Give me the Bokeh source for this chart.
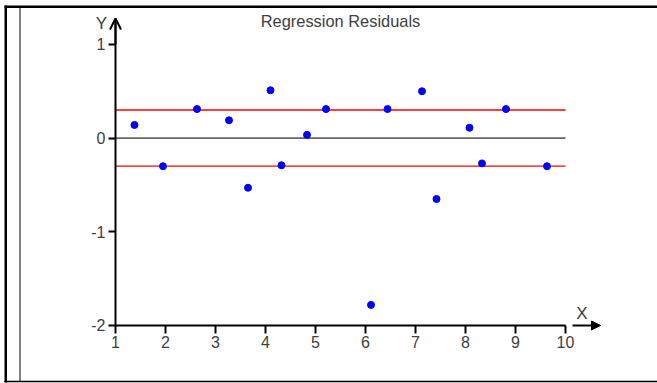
from bokeh.plotting import figure
from bokeh.models import (Range1d, FixedTicker, LinearAxis, Label, Arrow,
                          OpenHead, NormalHead)
from bokeh.embed import file_html
from bokeh.resources import INLINE

# Residuals of the regression fit
x_vals = [1.38, 1.95, 2.63, 3.27, 3.65, 4.10, 4.32, 4.83, 5.21, 6.11,
          6.44, 7.13, 7.42, 8.08, 8.33, 8.81, 9.63]
residuals = [0.14, -0.30, 0.31, 0.19, -0.53, 0.51, -0.29, 0.035, 0.31, -1.78,
             0.31, 0.50, -0.65, 0.11, -0.27, 0.31, -0.30]
band = 0.3
x_ticks = [1, 2, 3, 4, 5, 6, 7, 8, 9, 10]
y_ticks = [-2, -1, 0, 1]
y_top = 1.276
title_text = "Regression Residuals"

FONT = "Liberation Sans"
TXT = "#404040"
W, H = 657, 383
XR = (-1.3, 11.84)
YR = (-2.619, 1.4685)


def px_x(px):
    return XR[0] + px / W * (XR[1] - XR[0])


def px_y(py):
    return YR[1] - py / H * (YR[1] - YR[0])


# The plotting area covers the whole canvas; axes are pinned at x=1 and y=-2
p = figure(width=W, height=H, output_backend="svg", toolbar_location=None,
           x_range=Range1d(*XR), y_range=Range1d(*YR),
           x_axis_type=None, y_axis_type=None, min_border=0)
p.background_fill_color = "white"
p.border_fill_color = "white"
p.outline_line_color = None

xaxis = LinearAxis(fixed_location=y_ticks[0], bounds=(x_ticks[0], x_ticks[-1]))
yaxis = LinearAxis(fixed_location=x_ticks[0], bounds=(y_ticks[0], y_top))
for ax, ticks, tick_len, standoff in ((xaxis, x_ticks, 8, 3),
                                      (yaxis, y_ticks, 7, 3)):
    ax.ticker = FixedTicker(ticks=ticks)
    ax.major_label_overrides = {t: str(t) for t in ticks}
    ax.axis_line_width = 2
    ax.axis_line_color = "black"
    ax.major_tick_line_width = 2
    ax.major_tick_line_color = "black"
    ax.major_tick_out = tick_len
    ax.major_tick_in = 0
    ax.minor_tick_line_color = None
    ax.major_label_standoff = standoff
    ax.major_label_text_font = FONT
    ax.major_label_text_font_size = "16px"
    ax.major_label_text_color = TXT
p.add_layout(xaxis, "below")
p.add_layout(yaxis, "left")

# Surrounding cell border: heavy top and left edges, thin inner and bottom rules
p.segment(x0=[px_x(4), px_x(5.25), px_x(19.5), px_x(4)],
          x1=[px_x(657), px_x(5.25), px_x(19.5), px_x(657)],
          y0=[px_y(6.25), px_y(5), px_y(7), px_y(381)],
          y1=[px_y(6.25), px_y(382), px_y(381), px_y(381)],
          line_color="black", line_width=[2.5, 2.5, 1, 1.5])

# Zero line and +/- band
x0, x1 = x_ticks[0], x_ticks[-1]
p.segment(x0=x0, x1=x1, y0=0, y1=0, line_color="#666666", line_width=1.6)
p.segment(x0=[x0, x0], x1=[x1, x1], y0=[band, -band], y1=[band, -band],
          line_color="#ff0000", line_width=1.3)

p.scatter(x_vals, residuals, size=7, color="#0000ff")

# Axis arrows
p.add_layout(Arrow(x_start=1, y_start=1.0, x_end=1, y_end=y_top,
                   line_width=2, line_color="black",
                   end=OpenHead(size=11, line_width=2, line_color="black")))
p.add_layout(Arrow(x_start=10.14, y_start=-2, x_end=10.7, y_end=-2,
                   line_width=2, line_color="black",
                   end=NormalHead(size=9, fill_color="black", line_color="black")))

p.add_layout(Label(x=0.72, y=1.22, text="Y", text_font=FONT,
                   text_font_size="17px", text_color=TXT, text_align="center",
                   text_baseline="alphabetic"))
p.add_layout(Label(x=10.33, y=-1.87, text="X", text_font=FONT,
                   text_font_size="17px", text_color=TXT, text_align="center",
                   text_baseline="alphabetic"))
p.add_layout(Label(x=5.5, y=1.25, text=title_text, text_font=FONT,
                   text_font_size="16.4px", text_color=TXT, text_align="center",
                   text_baseline="alphabetic"))

open("out.html", "w").write(file_html(p, INLINE))
